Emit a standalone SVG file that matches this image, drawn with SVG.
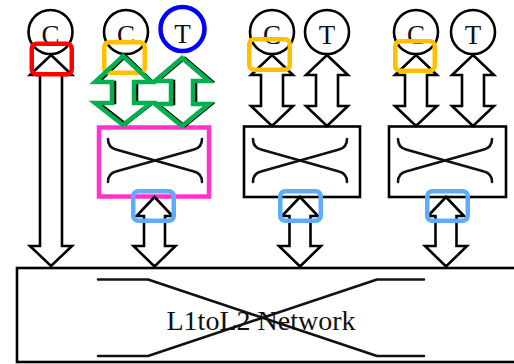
<svg xmlns="http://www.w3.org/2000/svg" width="514" height="364" viewBox="0 0 514 364">
  <style>
    .node { fill: #fff; stroke: #000; stroke-width: 2.6; }
    .lbl { font-family: "Liberation Serif", "Times New Roman", serif; fill: #111; text-anchor: middle; }
    .core { font-size: 27px; }
    .net { font-size: 28px; }
    .xw { fill: none; stroke: #111; stroke-width: 2.6; stroke-linecap: round; stroke-linejoin: round; }
    .arrow { fill: #fff; stroke: #000; stroke-width: 2.6; stroke-linejoin: miter; }
    .hl { fill: none; stroke-width: 4.5; }
    .red { stroke: #ff0000; }
    .orange { stroke: #ffc000; }
    .blue { stroke: #5dadff; }
    .green { fill: none; stroke: #00b050; stroke-width: 4.5; stroke-linejoin: miter; }
  </style>
  <defs>
    <!-- crossbar symbol used inside each switch box -->
    <path id="xbar" d="M-47,-21.5 Q-47,-13 -39,-11 L39,11 Q47,13 47,21.5 M47,-21.5 Q47,-13 39,-11 L-39,11 Q-47,13 -47,21.5"/>
  </defs>

  <rect width="514" height="364" fill="#fff"/>

  <!-- shared network -->
  <g id="l1tol2-network">
    <rect class="node" x="17" y="268" width="520" height="94"/>
    <path class="xw" d="M98,279.5 H148 L377,356 H424 M98,356 H148 L377,279.5 H424"/>
    <text class="lbl net" x="261" y="330">L1toL2 Network</text>
  </g>

  <!-- switch boxes -->
  <g id="switch-2">
    <rect x="99" y="127.5" width="110" height="69" fill="#fff" stroke="#ff33cc" stroke-width="4.5"/>
    <use href="#xbar" class="xw" transform="translate(155,160.5)"/>
  </g>
  <g id="switch-3">
    <rect class="node" x="244" y="126.5" width="116" height="70.5"/>
    <use href="#xbar" class="xw" transform="translate(300,160.5)"/>
  </g>
  <g id="switch-4">
    <rect class="node" x="389" y="126.5" width="117" height="70.5"/>
    <use href="#xbar" class="xw" transform="translate(445,160.5)"/>
  </g>

  <!-- cores and tiles -->
  <g id="core-1">
    <circle class="node" cx="50.5" cy="32" r="22"/>
    <text class="lbl core" x="50.5" y="44">C</text>
  </g>
  <g id="core-2">
    <circle class="node" cx="126" cy="32" r="22"/>
    <text class="lbl core" x="126" y="44">C</text>
  </g>
  <g id="tile-2">
    <circle cx="182.5" cy="29" r="22" fill="#fff" stroke="#0000ff" stroke-width="4.5"/>
    <text class="lbl core" x="182.5" y="43">T</text>
  </g>
  <g id="core-3">
    <circle class="node" cx="272" cy="32" r="22"/>
    <text class="lbl core" x="272" y="44">C</text>
  </g>
  <g id="tile-3">
    <circle class="node" cx="327" cy="32" r="22"/>
    <text class="lbl core" x="327" y="44">T</text>
  </g>
  <g id="core-4">
    <circle class="node" cx="416" cy="32" r="22"/>
    <text class="lbl core" x="416" y="44">C</text>
  </g>
  <g id="tile-4">
    <circle class="node" cx="473" cy="32" r="22"/>
    <text class="lbl core" x="473" y="44">T</text>
  </g>

  <!-- bidirectional links -->
  <g id="links">
    <polygon class="arrow" points="51,55 72,75 62,75 62,246 72,246 51,266 30,246 40,246 40,75 30,75"/>

    <polygon class="arrow" points="126,56 153,82 137,82 137,103 153,103 126,124 99,103 115,103 115,82 99,82"/>
    <polygon class="arrow" points="185,58 212,81 196,81 196,104 212,104 185,126 158,104 174,104 174,81 158,81"/>
    <polygon class="arrow" points="272,55 293,75 283,75 283,106 293,106 272,126 251,106 261,106 261,75 251,75"/>
    <polygon class="arrow" points="327,55 348,75 338,75 338,106 348,106 327,126 306,106 316,106 316,75 306,75"/>
    <polygon class="arrow" points="416,55 437,75 427,75 427,106 437,106 416,126 395,106 405,106 405,75 395,75"/>
    <polygon class="arrow" points="473,55 494,75 484,75 484,106 494,106 473,126 452,106 462,106 462,75 452,75"/>

    <polygon class="arrow" points="154.5,197 172.5,216 165,216 165,246 175.5,246 154.5,266.5 133.5,246 144,246 144,216 136.5,216"/>
    <polygon class="arrow" points="300,197 318,216 310.5,216 310.5,246 321,246 300,266.5 279,246 289.5,246 289.5,216 282,216"/>
    <polygon class="arrow" points="446,197 464,216 456.5,216 456.5,246 467,246 446,266.5 425,246 435.5,246 435.5,216 428,216"/>
  </g>

  <!-- highlight marks -->
  <g id="highlights">
    <rect class="hl red" x="31.75" y="43.75" width="40" height="30.5" rx="5"/>
    <rect class="hl orange" x="104.25" y="42.25" width="40.5" height="30.5" rx="5"/>
    <rect class="hl orange" x="249.25" y="39.25" width="40.5" height="30.5" rx="5"/>
    <rect class="hl orange" x="395.25" y="41.25" width="39.5" height="29.5" rx="5"/>
    <polygon class="green" points="123,56 151,82 134,82 134,103 151,103 123,125 95,103 112,103 112,82 95,82"/>
    <polygon class="green" points="182,58 209,81 193,81 193,104 209,104 182,126 155,104 171,104 171,81 155,81"/>
    <rect class="hl blue" x="133.25" y="191.25" width="40.5" height="29.5" rx="5"/>
    <rect class="hl blue" x="280.25" y="191.25" width="40.5" height="29.5" rx="5"/>
    <rect class="hl blue" x="427.25" y="191.25" width="40.5" height="29.5" rx="5"/>
  </g>
</svg>
